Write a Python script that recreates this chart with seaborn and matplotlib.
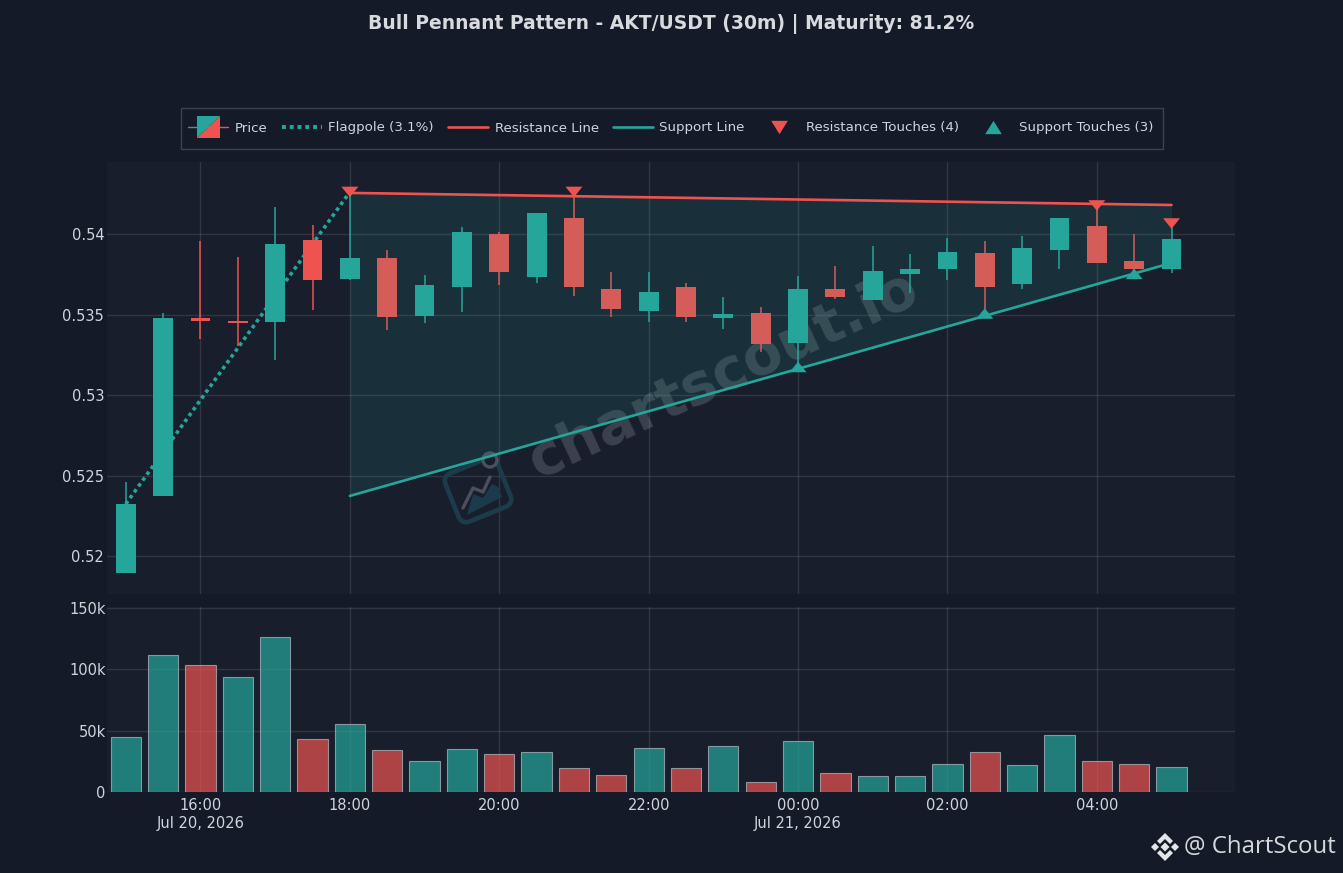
import numpy as np
import pandas as pd
import seaborn as sns
import matplotlib
matplotlib.use("Agg")
import matplotlib.pyplot as plt
from matplotlib.lines import Line2D
from matplotlib.patches import Polygon, FancyBboxPatch, Circle, Rectangle
from matplotlib.path import Path
from matplotlib.transforms import Affine2D, IdentityTransform
from matplotlib.legend_handler import HandlerBase

# Candles, one every 30 min from 15:00 Jul 20 to 05:00 Jul 21
slots = list(range(29))
opens = [0.51898, 0.52376, 0.53481, 0.53463, 0.53457, 0.53966, 0.53724, 0.53854, 0.53494, 0.53674,
         0.54003, 0.53736, 0.54102, 0.53662, 0.53525, 0.53674, 0.53484, 0.53512, 0.53326, 0.53662,
         0.53593, 0.53755, 0.53786, 0.53885, 0.53693, 0.53904, 0.54053, 0.53835, 0.53786]
closes = [0.52326, 0.53481, 0.53463, 0.53453, 0.53941, 0.53717, 0.53854, 0.53488, 0.53686, 0.54016,
          0.53767, 0.54134, 0.53674, 0.53537, 0.53643, 0.53488, 0.53503, 0.53320, 0.53662, 0.53612,
          0.53773, 0.53786, 0.53891, 0.53674, 0.53916, 0.54102, 0.53823, 0.53786, 0.53972]
highs = [0.52463, 0.53512, 0.53960, 0.53860, 0.54171, 0.54059, 0.54245, 0.53904, 0.53748, 0.54047,
         0.54016, 0.54134, 0.54258, 0.53767, 0.53767, 0.53699, 0.53612, 0.53550, 0.53742, 0.53804,
         0.53929, 0.53879, 0.53978, 0.53960, 0.53991, 0.54102, 0.54202, 0.54003, 0.54053]
lows = [0.51895, 0.52376, 0.53351, 0.53307, 0.53220, 0.53531, 0.53715, 0.53407, 0.53450, 0.53519,
        0.53686, 0.53699, 0.53618, 0.53488, 0.53457, 0.53457, 0.53413, 0.53270, 0.53171, 0.53600,
        0.53593, 0.53637, 0.53717, 0.53519, 0.53662, 0.53786, 0.53820, 0.53748, 0.53761]
volumes = [45, 111.7, 103.5, 93.7, 126.3, 43, 55.4, 34, 25, 35,
           31, 33, 19.5, 13.5, 36, 19.5, 37.5, 8.5, 41.5, 15.5,
           13, 12.8, 23.2, 32.5, 22.4, 46.5, 25, 22.8, 20.4]
# volume colours do not follow the candle at 16:30 in the original, so they are listed
vol_sides = ["up", "up", "down", "up", "up", "down", "up", "down", "up", "up",
             "down", "up", "down", "down", "up", "down", "up", "down", "up", "down",
             "up", "up", "up", "down", "up", "up", "down", "down", "up"]

# Pattern geometry
flag_x = [0, 6]
flag_y = [0.52326, 0.54264]
pennant_x = [6, 28]
resistance_y = [0.54258, 0.54183]
support_y = [0.52376, 0.53823]
res_touch_x = [6, 12, 26, 28]
res_touch_y = [0.54264, 0.54264, 0.54180, 0.54068]
sup_touch_x = [18, 23, 27]
sup_touch_y = [0.53177, 0.53509, 0.53755]

tick_slots = [2, 6, 10, 14, 18, 22, 26]
tick_labels = ["16:00\nJul 20, 2026", "18:00", "20:00", "22:00", "00:00\nJul 21, 2026", "02:00", "04:00"]
price_ticks = [0.52, 0.525, 0.53, 0.535, 0.54]
price_labels = ["0.52", "0.525", "0.53", "0.535", "0.54"]
vol_ticks = [0, 50, 100, 150]
vol_labels = ["0", "50k", "100k", "150k"]

W, H = 1343, 873
FIG_BG = "#141a28"
PANEL_BG = "#181e2c"
TEAL = "#26a69a"
RED = "#ef5350"
TEXT = "#d1d4dc"

sns.set_theme(style="dark")
plt.rcParams["font.family"] = ["DejaVu Sans"]


def px(x, y):
    return (x, H - y)


def axes_rect(left, top, right, bottom):
    return [left / W, (H - bottom) / H, (right - left) / W, (bottom - top) / H]


class CandleHandle:
    pass


class CandleHandler(HandlerBase):
    # half teal / half red square with a wick through it
    def create_artists(self, legend, orig, xd, yd, width, height, fontsize, trans):
        cx, cy = width / 2, height / 2
        s = height * 1.2
        left = Line2D([0, cx], [cy, cy], color=TEAL, lw=1, transform=trans)
        right = Line2D([cx, width], [cy, cy], color=RED, lw=1, transform=trans)
        up = Polygon([(cx - s, cy - s), (cx - s, cy + s), (cx + s, cy + s)], fc=TEAL, ec="none", transform=trans)
        dn = Polygon([(cx - s, cy - s), (cx + s, cy - s), (cx + s, cy + s)], fc=RED, ec="none", transform=trans)
        return [left, right, up, dn]


tri_down = Path([(-1, 0.62), (1, 0.62), (0, -0.62), (-1, 0.62)], closed=True)
tri_up = Path([(-1, -0.62), (1, -0.62), (0, 0.62), (-1, -0.62)], closed=True)
leg_down = Path([(-1, 0.8), (1, 0.8), (0, -0.8), (-1, 0.8)], closed=True)
leg_up = Path([(-1, -0.8), (1, -0.8), (0, 0.8), (-1, -0.8)], closed=True)

fig = plt.figure(figsize=(W / 100, H / 100), dpi=100, facecolor=FIG_BG)
ax = fig.add_axes(axes_rect(107, 162, 1235, 594))
ax_vol = fig.add_axes(axes_rect(107, 607, 1235, 792))

for a in (ax, ax_vol):
    a.set_facecolor(PANEL_BG)
    for s in a.spines.values():
        s.set_visible(False)
    a.grid(True, color="#ffffff", alpha=0.11, lw=1.0)
    a.set_axisbelow(True)
    a.set_xlim(-0.503, 29.7)
    a.set_xticks(tick_slots)
    a.tick_params(length=0, colors=TEXT, labelsize=10.5)

# watermark under the candles
ax.text(16.0, 0.53125, "chartscout.io", rotation=25, rotation_mode="anchor", ha="center", va="center",
        fontsize=41, fontweight="bold", color="#8d929c", alpha=0.3, zorder=1)
rot = Affine2D().rotate_deg_around(478, H - 490, 22) + IdentityTransform()
ax.add_patch(FancyBboxPatch((450, H - 516), 56, 52, boxstyle="round,pad=0,rounding_size=9", fc="none",
                            ec="#1c3b4b", lw=3.4, transform=rot, zorder=1, clip_on=False))
ax.add_patch(Polygon([px(467, 515), px(473, 494), px(483, 498), px(492, 484), px(498, 487), px(502, 497)],
                     fc="#1b3a4b", ec="none", transform=IdentityTransform(), zorder=1))
ax.add_line(Line2D(*zip(px(463, 508), px(473, 488), px(483, 492), px(490, 477)), color="#4b505c", lw=2.4,
                   transform=IdentityTransform(), zorder=1))
ax.add_patch(Circle(px(490, 460), 7, fc=PANEL_BG, ec="#4b505c", lw=2.4, transform=IdentityTransform(), zorder=1))

# flagpole sits behind the candles
sns.lineplot(x=flag_x, y=flag_y, ax=ax, color=TEAL, linewidth=2.6, linestyle=(0, (1, 1)), zorder=2, legend=False)

for s, o, c, h, l in zip(slots, opens, closes, highs, lows):
    col = TEAL if c >= o else RED
    ax.vlines(s, l, h, color=col, lw=1.1, zorder=3)
    ax.bar(s, abs(c - o), bottom=min(o, c), width=0.53, color=col, linewidth=0, zorder=3)

# pennant fill goes over the candles, that is why the reds look washed out
ax.fill_between(pennant_x, support_y, resistance_y, color=TEAL, alpha=0.13, lw=0, zorder=4)

sns.lineplot(x=pennant_x, y=resistance_y, ax=ax, color=RED, linewidth=1.9, zorder=5, legend=False)
sns.lineplot(x=pennant_x, y=support_y, ax=ax, color=TEAL, linewidth=1.9, zorder=5, legend=False)
sns.scatterplot(x=res_touch_x, y=res_touch_y, ax=ax, marker=tri_down, s=150, color=RED, edgecolor="none", zorder=6, legend=False)
sns.scatterplot(x=sup_touch_x, y=sup_touch_y, ax=ax, marker=tri_up, s=150, color=TEAL, edgecolor="none", zorder=6, legend=False)

ax.set_ylim(0.51767, 0.5445)
ax.set_yticks(price_ticks)
ax.set_yticklabels(price_labels)
ax.set_xticklabels([])
ax.tick_params(axis="y", pad=2)
ax.set_xlabel("")
ax.set_ylabel("")

# Volume
vol_df = pd.DataFrame({"slot": slots, "volume": volumes, "side": vol_sides})
sns.barplot(data=vol_df, x="slot", y="volume", hue="side", hue_order=["up", "down"], native_scale=True, dodge=False,
            palette={"up": "#26a69a", "down": "#ef5350"}, width=0.81, saturation=1, alpha=0.7,
            edgecolor="#aebdc0", linewidth=0.8, legend=False, ax=ax_vol, zorder=3)
ax_vol.set_xlim(-0.503, 29.7)
ax_vol.set_ylim(0, 151)
ax_vol.set_yticks(vol_ticks)
ax_vol.set_yticklabels(vol_labels)
ax_vol.set_xticks(tick_slots)
ax_vol.set_xticklabels(tick_labels, linespacing=1.3)
ax_vol.tick_params(axis="y", pad=1)
ax_vol.tick_params(axis="x", pad=4)
ax_vol.set_xlabel("")
ax_vol.set_ylabel("")

fig.text(671.5 / W, (H - 24) / H, "Bull Pennant Pattern - AKT/USDT (30m) | Maturity: 81.2%", ha="center", va="center",
         fontsize=13.5, fontweight="bold", color="#d8dade")

# legend frame is drawn by hand, the built-in one cannot pad x and y separately
fig.add_artist(Rectangle(px(180.5, 148.5), 982, 41, fc=FIG_BG, ec="#3c4350", lw=1, transform=IdentityTransform()))
handles = [
    CandleHandle(),
    Line2D([], [], color=TEAL, lw=2.8, linestyle=(0, (1, 1))),
    Line2D([], [], color=RED, lw=1.9),
    Line2D([], [], color=TEAL, lw=1.9),
    Line2D([], [], color=RED, marker=leg_down, markersize=12, ls="none", mec="none"),
    Line2D([], [], color=TEAL, marker=leg_up, markersize=12, ls="none", mec="none"),
]
names = ["Price", "Flagpole (3.1%)", "Resistance Line", "Support Line", "Resistance Touches (4)", "Support Touches (3)"]
fig.legend(handles, names, handler_map={CandleHandle: CandleHandler()}, ncol=6, loc="center",
           bbox_to_anchor=(671 / W, (H - 128) / H), fontsize=9.65, labelcolor=TEXT, frameon=False,
           handlelength=2.98, handletextpad=0.5, columnspacing=1.05, borderpad=1.05, borderaxespad=0, numpoints=1)

# ChartScout mark, bottom right
cx, cy = 1165, 847
logo = [
    [(0, -4.5), (4.5, 0), (0, 4.5), (-4.5, 0)],
    [(0, -14), (8, -6), (5, -3), (0, -8), (-5, -3), (-8, -6)],
    [(0, 14), (8, 6), (5, 3), (0, 8), (-5, 3), (-8, 6)],
    [(-14, 0), (-10, -4), (-6, 0), (-10, 4)],
    [(14, 0), (10, -4), (6, 0), (10, 4)],
]
for shape in logo:
    fig.add_artist(Polygon([px(cx + dx, cy + dy) for dx, dy in shape], fc="#e4e6ea", ec="none",
                           transform=IdentityTransform()))
fig.text(1184 / W, (H - 847) / H, "@ ChartScout", ha="left", va="center", fontsize=17.3, color="#d6d8dc",
         family=["Open Sans", "DejaVu Sans"])

fig.savefig("out.png", dpi=100, facecolor=FIG_BG)
